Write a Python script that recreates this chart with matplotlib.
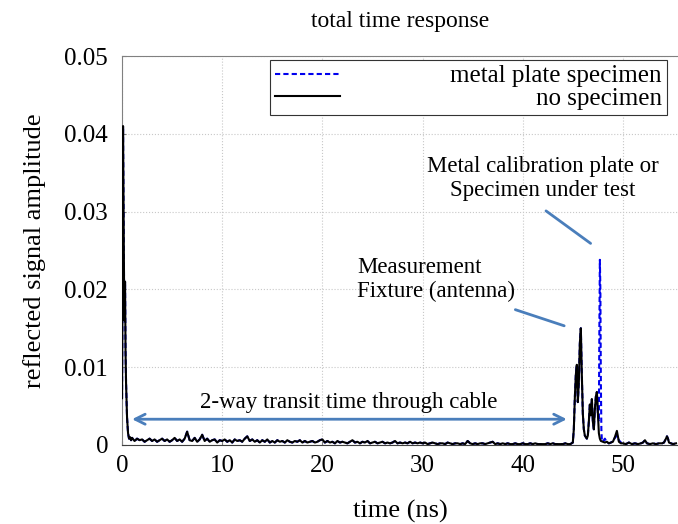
import matplotlib
matplotlib.use('Agg')
import matplotlib.pyplot as plt
import numpy as np

plt.rcParams['font.family'] = ['Liberation Serif', 'DejaVu Serif']

# --- data ---
# initial reflection at the connector
t_start = [0.0, 0.05, 0.1, 0.15, 0.2, 0.25, 0.3, 0.35, 0.4, 0.5, 0.6, 0.7, 0.8, 0.9]
a_start = [0.0060, 0.0200, 0.0410, 0.0300, 0.0210, 0.0160, 0.0210, 0.0120,
           0.0080, 0.0035, 0.0015, 0.0008, 0.0010, 0.0006]

# cable noise floor, 1.0 .. 44.75 ns every 0.25 ns (values in 1e-4)
t_noise = np.arange(1.0, 45.0, 0.25)
a_noise_e4 = [
    9, 5, 8, 6,  7, 4, 6, 8,  5, 7, 4, 6,  8, 5, 7, 4,  6, 9, 5, 7,
    4, 8, 17, 6,  5, 9, 4, 7,  13, 5, 8, 4,  6, 7, 3, 6,  5, 7, 4, 6,
    3, 7, 5, 6,  4, 8, 11, 5,  7, 4, 6, 3,  6, 4, 7, 3,  5, 3, 6, 4,
    5, 3, 6, 4,  3, 5, 4, 6,  3, 5, 3, 4,  5, 3, 4, 6,  7, 3, 5, 3,
    4, 2, 5, 3,  4, 3, 2, 4,  6, 3, 4, 2,  4, 3, 5, 2,  3, 4, 2, 3,
    4, 2, 3, 2,  3, 5, 2, 3,  2, 3, 2, 4,  2, 3, 2, 3,  2, 3, 1, 2,
    3, 2, 1, 2,  2, 1, 3, 2,  1, 2, 2, 1,  2, 1, 5, 2,  1, 2, 1, 2,
    2, 1, 2, 3,  4, 1, 2, 1,  2, 1, 2, 1,  1, 2, 1, 1,  2, 1, 1, 2,
    1, 2, 1, 1,  1, 1, 2, 1,  2, 1, 1, 1,  1, 2, 1, 1,
]
a_noise = np.array(a_noise_e4) * 1e-4

# fixture / antenna region, no specimen
t_end = [45.0, 45.1, 45.2, 45.3, 45.4, 45.5, 45.6, 45.7, 45.8, 45.9, 46.0, 46.1,
         46.2, 46.3, 46.4, 46.5, 46.6, 46.7, 46.8, 46.9, 47.0, 47.1, 47.2, 47.3,
         47.4, 47.5, 47.6, 47.7, 47.8, 48.0, 48.2, 48.4, 48.6, 48.8, 49.0, 49.2,
         49.4, 49.6, 49.8, 50.0, 50.3, 50.6, 50.9, 51.2, 51.5, 51.8, 52.0, 52.2,
         52.4, 52.7, 53.0, 53.3, 53.6, 53.9, 54.1, 54.3, 54.4, 54.5, 54.6, 54.8,
         55.0, 55.3]
a_end = [0.0003, 0.0020, 0.0060, 0.0090, 0.0103, 0.0055, 0.0080, 0.0130, 0.0150,
         0.0090, 0.0040, 0.0020, 0.0012, 0.0010, 0.0008, 0.0012, 0.0030, 0.0052,
         0.0038, 0.0059, 0.0030, 0.0020, 0.0045, 0.0062, 0.0068, 0.0040, 0.0015,
         0.0008, 0.0005, 0.0004, 0.0003, 0.0004, 0.0002, 0.0003, 0.0004, 0.0010,
         0.0018, 0.0004, 0.0002, 0.0002, 0.0001, 0.0003, 0.0001, 0.0002, 0.0001,
         0.0002, 0.0003, 0.0006, 0.0002, 0.0001, 0.0002, 0.0001, 0.0002, 0.0002,
         0.0003, 0.0008, 0.0011, 0.0008, 0.0003, 0.0002, 0.0001, 0.0002]

# metal plate reflection (differs from no-specimen trace only here)
t_plate = [47.6, 47.65, 47.7, 47.75, 47.8, 47.85, 47.9, 48.0, 48.2, 48.4, 48.6,
           48.8, 49.0, 49.2, 49.4, 49.6, 49.8, 50.0]
a_plate = [0.0030, 0.0150, 0.0238, 0.0200, 0.0080, 0.0020, 0.0006, 0.0004,
           0.0008, 0.0003, 0.0002, 0.0003, 0.0005, 0.0009, 0.0012, 0.0006,
           0.0003, 0.0002]

t_none = np.concatenate([t_start, t_noise, t_end])
a_none = np.concatenate([a_start, a_noise, a_end])

t_end = np.array(t_end)
a_end = np.array(a_end)
before = t_end <= 47.5
after = t_end > 50.0
t_metal = np.concatenate([t_start, t_noise, t_end[before], t_plate, t_end[after]])
a_metal = np.concatenate([a_start, a_noise, a_end[before], a_plate, a_end[after]])

xticks = [0, 10, 20, 30, 40, 50]
yticks = [0, 0.01, 0.02, 0.03, 0.04, 0.05]
ytick_labels = ['0', '0.01', '0.02', '0.03', '0.04', '0.05']

note_color = '#4a7ebb'

fig = plt.figure(figsize=(6.78, 5.24), dpi=100)
ax = fig.add_axes([0.18, 0.151, 0.82, 0.742])

ax.plot(t_metal, a_metal, color='#0000ee', lw=1.5, linestyle=(0, (2.5, 1.5)),
        label='metal plate specimen', zorder=2)
ax.plot(t_none, a_none, color='black', lw=1.5, label='no specimen', zorder=3)

ax.set_xlim(0, 55.5)
ax.set_ylim(0, 0.05)
ax.set_xticks(xticks)
ax.set_yticks(yticks)
ax.set_yticklabels(ytick_labels)
ax.tick_params(labelsize=18, direction='in', length=3, color='#808080')
ax.tick_params(axis='y', pad=10)
ax.tick_params(axis='x', pad=7)
ax.grid(True, linestyle=':', color='#c8c8c8', lw=0.8)
for side in ['left', 'top']:
    ax.spines[side].set_color('#808080')
ax.spines['bottom'].set_color('#404040')
ax.spines['right'].set_visible(False)

ax.set_title('total time response', fontsize=17, pad=21)
ax.set_xlabel('time (ns)', fontsize=19, labelpad=17)
ax.set_ylabel('reflected signal amplitude', fontsize=19, labelpad=13)

# annotations
ax.text(42.0, 0.0343, 'Metal calibration plate or\nSpecimen under test',
        fontsize=16.5, ha='center', va='center', linespacing=1.2)
ax.annotate('', xy=(47.0, 0.0257), xytext=(42.1, 0.0303),
            arrowprops=dict(arrowstyle='-', color=note_color, lw=2))
ax.text(23.45, 0.0213, 'Measurement\nFixture (antenna)',
        fontsize=16.5, ha='left', va='center', linespacing=1.2)
ax.annotate('', xy=(44.4, 0.0152), xytext=(39.0, 0.0175),
            arrowprops=dict(arrowstyle='-', color=note_color, lw=2))
ax.text(22.6, 0.0054, '2-way transit time through cable',
        fontsize=16.5, ha='center', va='center')
ax.annotate('', xy=(1.0, 0.0033), xytext=(44.4, 0.0033),
            arrowprops=dict(arrowstyle='<->', color=note_color, lw=2,
                            mutation_scale=18, shrinkA=0, shrinkB=0))

leg = ax.legend(loc='upper right', bbox_to_anchor=(0.98, 0.99), borderaxespad=0,
                fontsize=18, handlelength=2.6, handletextpad=4.4, borderpad=0.2,
                labelspacing=0.0, fancybox=False, framealpha=1,
                edgecolor='#333333')
leg.get_frame().set_linewidth(0.8)

# right-align the legend labels (MATLAB style)
fig.canvas.draw()
renderer = fig.canvas.get_renderer()
texts = leg.get_texts()
widths = [t.get_window_extent(renderer).width for t in texts]
for t, w in zip(texts, widths):
    t.set_x(max(widths) - w)

fig.savefig('out.png', dpi=100)
